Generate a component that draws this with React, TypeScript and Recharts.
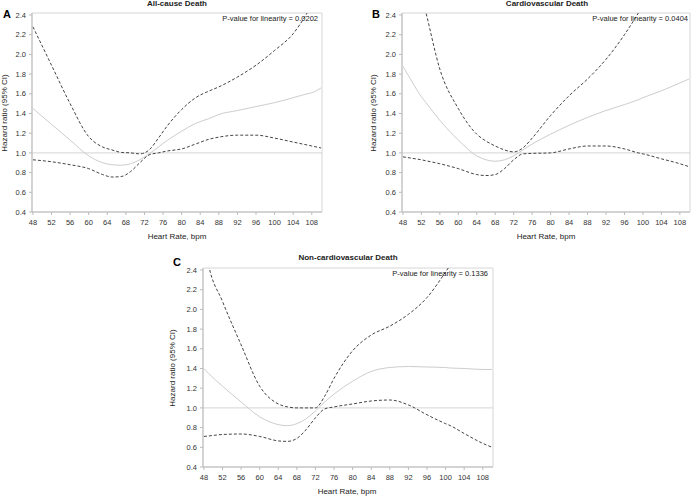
import React from "react";
import { LineChart, Line, XAxis, YAxis, ReferenceLine, ReferenceArea } from "recharts";

const xTicks = [48, 52, 56, 60, 64, 68, 72, 76, 80, 84, 88, 92, 96, 100, 104, 108];
const yTicks = [0.4, 0.6, 0.8, 1.0, 1.2, 1.4, 1.6, 1.8, 2.0, 2.2, 2.4];

// Panel A: All-cause death
const aHr = [48, 52, 56, 60, 63, 65, 67, 69, 71, 73, 75, 77, 80, 83, 86, 88, 92, 96, 100, 104, 107, 108, 110];
const aEst = [1.45, 1.29, 1.13, 0.97, 0.9, 0.88, 0.875, 0.89, 0.93, 0.99, 1.06, 1.13, 1.22, 1.3, 1.35, 1.39, 1.43, 1.47, 1.51, 1.56, 1.6, 1.61, 1.66];
const aUpper = [2.28, 1.89, 1.5, 1.165, 1.06, 1.03, 1.005, 1.0, 0.99, 1.03, 1.15, 1.28, 1.44, 1.56, 1.63, 1.67, 1.77, 1.89, 2.04, 2.21, 2.42, 2.5, 2.65];
const aLower = [0.93, 0.91, 0.88, 0.84, 0.78, 0.755, 0.76, 0.81, 0.9, 0.98, 1.0, 1.02, 1.04, 1.09, 1.14, 1.16, 1.18, 1.18, 1.15, 1.11, 1.08, 1.07, 1.05];

// Panel B: Cardiovascular death
const bHr = [48, 50, 52, 53, 56, 60, 64, 66, 68, 70, 72, 74, 76, 80, 84, 88, 92, 96, 99, 100, 104, 108, 110];
const bEst = [1.88, 1.72, 1.57, 1.51, 1.33, 1.13, 0.97, 0.93, 0.915, 0.93, 0.97, 1.03, 1.09, 1.19, 1.28, 1.36, 1.43, 1.49, 1.54, 1.56, 1.63, 1.71, 1.75];
const bUpper = [3.4, 2.95, 2.6, 2.42, 1.85, 1.45, 1.19, 1.12, 1.07, 1.03, 1.01, 1.05, 1.15, 1.38, 1.58, 1.75, 1.95, 2.2, 2.42, 2.5, 2.8, 3.1, 3.3];
const bLower = [0.96, 0.945, 0.93, 0.92, 0.89, 0.84, 0.78, 0.77, 0.78, 0.84, 0.93, 0.99, 0.995, 1.0, 1.04, 1.07, 1.07, 1.04, 1.0, 0.99, 0.94, 0.89, 0.86];

// Panel C: Non-cardiovascular death
const cHr = [48, 49, 52, 56, 60, 64, 66, 68, 70, 72, 74, 76, 80, 84, 88, 92, 96, 100, 101, 104, 108, 110];
const cEst = [1.4, 1.35, 1.22, 1.06, 0.91, 0.83, 0.82, 0.84, 0.89, 0.97, 1.06, 1.14, 1.27, 1.37, 1.41, 1.42, 1.415, 1.41, 1.405, 1.4, 1.39, 1.39];
const cUpper = [2.7, 2.45, 2.08, 1.64, 1.22, 1.04, 1.01, 1.0, 1.0, 1.0, 1.12, 1.3, 1.58, 1.74, 1.83, 1.95, 2.12, 2.38, 2.45, 2.7, 3.0, 3.2];
const cLower = [0.71, 0.715, 0.73, 0.735, 0.71, 0.665, 0.66, 0.69, 0.78, 0.9, 0.99, 1.01, 1.04, 1.07, 1.08, 1.03, 0.93, 0.84, 0.82, 0.74, 0.64, 0.6];

const build = (hr: number[], est: number[], up: number[], lo: number[]) =>
  hr.map((h, i) => ({ hr: h, est: est[i], upper: up[i], lower: lo[i] }));

const FONT = "'Liberation Sans', Arial, sans-serif";
const X_DOMAIN: [number, number] = [47.8, 110.2];
const Y_DOMAIN: [number, number] = [0.4, 2.42];

type PanelProps = {
  left: number;
  top: number;
  width: number;
  height: number;
  margin: { top: number; right: number; bottom: number; left: number };
  data: { hr: number; est: number; upper: number; lower: number }[];
  title: string;
  letter: string;
  pvalue: string;
  titleX: number;
  titleY: number;
  letterX: number;
  letterY: number;
  pRight: number;
  pY: number;
  yLabelX: number;
  yLabelY: number;
  xLabelX: number;
  xLabelY: number;
};

const txt = (x: number, y: number, s: string, style: React.CSSProperties, anchor: "center" | "right" = "center") => (
  <div
    style={{
      position: "absolute",
      left: anchor === "center" ? x - 150 : x - 300,
      top: y - 8,
      width: 300,
      height: 16,
      lineHeight: "16px",
      textAlign: anchor === "center" ? "center" : "right",
      whiteSpace: "nowrap",
      fontFamily: FONT,
      color: "#222",
      ...style,
    }}
  >
    {s}
  </div>
);

const Panel = (p: PanelProps) => (
  <>
    <div style={{ position: "absolute", left: p.left, top: p.top }}>
      <LineChart width={p.width} height={p.height} data={p.data} margin={p.margin}>
        <XAxis
          dataKey="hr"
          type="number"
          domain={X_DOMAIN}
          ticks={xTicks}
          allowDataOverflow
          height={20}
          tickSize={3}
          tickMargin={5}
          interval={0}
          stroke="#bbb"
          tick={{ fill: "#333", fontSize: 7.5, fontFamily: FONT }}
        />
        <YAxis
          type="number"
          domain={Y_DOMAIN}
          ticks={yTicks}
          allowDataOverflow
          width={32}
          tickSize={3}
          tickMargin={3}
          interval={0}
          stroke="#bbb"
          tickFormatter={(v: number) => v.toFixed(1)}
          tick={{ fill: "#333", fontSize: 7.5, fontFamily: FONT }}
        />
        <ReferenceArea x1={X_DOMAIN[0]} x2={X_DOMAIN[1]} y1={Y_DOMAIN[0]} y2={Y_DOMAIN[1]} fill="none" fillOpacity={0} stroke="#d6d6d6" strokeWidth={1} />
        <ReferenceLine y={1} stroke="#d4d4d4" strokeWidth={1} />
        <Line dataKey="est" type="monotone" stroke="#cdcdcd" strokeWidth={1} dot={false} isAnimationActive={false} />
        <Line dataKey="upper" type="monotone" stroke="#444" strokeWidth={1} strokeDasharray="3 2" dot={false} isAnimationActive={false} />
        <Line dataKey="lower" type="monotone" stroke="#444" strokeWidth={1} strokeDasharray="3 2" dot={false} isAnimationActive={false} />
      </LineChart>
    </div>
    {txt(p.titleX, p.titleY, p.title, { fontSize: 8, fontWeight: "bold" })}
    {txt(p.letterX, p.letterY, p.letter, { fontSize: 11, fontWeight: "bold", color: "#000" })}
    {txt(p.pRight, p.pY, p.pvalue, { fontSize: 7.5 }, "right")}
    {txt(p.xLabelX, p.xLabelY, "Heart Rate, bpm", { fontSize: 8 })}
    <div
      style={{
        position: "absolute",
        left: p.yLabelX - 150,
        top: p.yLabelY - 8,
        width: 300,
        height: 16,
        lineHeight: "16px",
        textAlign: "center",
        fontFamily: FONT,
        fontSize: 8,
        color: "#222",
        transform: "rotate(-90deg)",
        whiteSpace: "nowrap",
      }}
    >
      Hazard ratio (95% CI)
    </div>
  </>
);

export default function App() {
  return (
    <div style={{ position: "absolute", left: 0, top: 0, width: 693, height: 496, background: "#fff", overflow: "hidden" }}>
      <Panel
        left={0} top={0} width={345} height={245}
        margin={{ top: 13, right: 23, bottom: 13, left: 0 }}
        data={build(aHr, aEst, aUpper, aLower)}
        title="All-cause Death" letter="A" pvalue="P-value for linearity = 0.0202"
        titleX={177} titleY={4} letterX={7} letterY={14} pRight={318} pY={19}
        yLabelX={5} yLabelY={113} xLabelX={177} xLabelY={237}
      />
      <Panel
        left={345} top={0} width={348} height={245}
        margin={{ top: 13, right: 3, bottom: 13, left: 25 }}
        data={build(bHr, bEst, bUpper, bLower)}
        title="Cardiovascular Death" letter="B" pvalue="P-value for linearity = 0.0404"
        titleX={547} titleY={4} letterX={376} letterY={14} pRight={688} pY={19}
        yLabelX={374} yLabelY={113} xLabelX={546} xLabelY={237}
      />
      <Panel
        left={170} top={245} width={345} height={251}
        margin={{ top: 23, right: 22, bottom: 9, left: 1 }}
        data={build(cHr, cEst, cUpper, cLower)}
        title="Non-cardiovascular Death" letter="C" pvalue="P-value for linearity = 0.1336"
        titleX={348} titleY={258} letterX={177} letterY={262} pRight={488} pY={274}
        yLabelX={173} yLabelY={368} xLabelX={347} xLabelY={492}
      />
    </div>
  );
}
